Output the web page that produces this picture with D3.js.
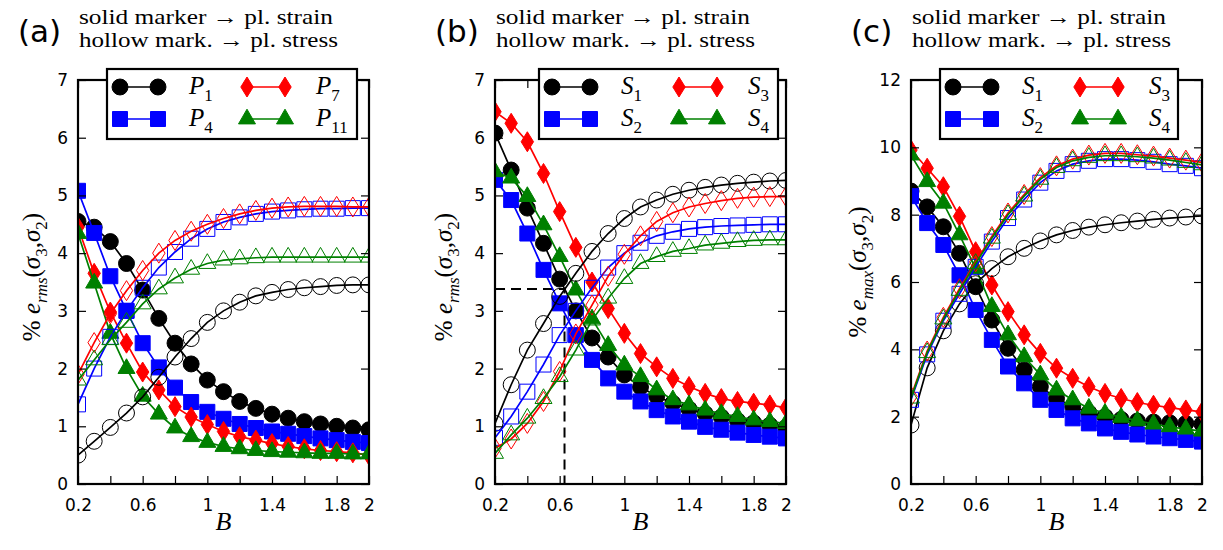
<!DOCTYPE html>
<html>
<head>
<meta charset="utf-8">
<script src="https://cdn.jsdelivr.net/npm/d3@7"></script>
<style>
    body { margin: 0; background: #fff; }
</style>
</head>
<body>
<svg width="1223" height="550"></svg>
<script>
// B values of the markers
const bValues = [0.2, 0.3, 0.4, 0.5, 0.6, 0.7, 0.8, 0.9, 1.0, 1.1, 1.2, 1.3, 1.4, 1.5, 1.6, 1.7, 1.8, 1.9, 2.0];
const xTickValues = [0.2, 0.4, 0.6, 0.8, 1.0, 1.2, 1.4, 1.6, 1.8, 2.0];
const xTickLabels = ['0.2', '', '0.6', '', '1', '', '1.4', '', '1.8', '2'];
const yTicksRms = [0, 1, 2, 3, 4, 5, 6, 7];
const yTicksMax = [0, 2, 4, 6, 8, 10, 12];

const panelTags = ['(a)', '(b)', '(c)'];
const noteLines = ['solid marker \u2192 pl. strain', 'hollow mark. \u2192 pl. stress'];
const namesA = ['P_1', 'P_4', 'P_7', 'P_11'];
const namesS = ['S_1', 'S_2', 'S_3', 'S_4'];

// (a) % e_rms, P series
const aP1Strain = [4.55, 4.45, 4.2, 3.82, 3.36, 2.87, 2.44, 2.08, 1.8, 1.6, 1.43, 1.31, 1.21, 1.14, 1.08, 1.04, 1.0, 0.97, 0.94];
const aP1Stress = [0.5, 0.74, 0.98, 1.23, 1.51, 1.85, 2.2, 2.52, 2.8, 3.0, 3.15, 3.26, 3.32, 3.37, 3.4, 3.42, 3.44, 3.45, 3.45];
const aP4Strain = [5.08, 4.35, 3.6, 3.0, 2.44, 2.02, 1.67, 1.42, 1.25, 1.13, 1.04, 0.97, 0.91, 0.87, 0.83, 0.79, 0.76, 0.73, 0.71];
const aP4Stress = [1.38, 2.0, 2.55, 3.0, 3.4, 3.75, 4.02, 4.25, 4.42, 4.54, 4.62, 4.68, 4.72, 4.74, 4.76, 4.77, 4.77, 4.78, 4.78];
const aP7Strain = [4.45, 3.65, 2.98, 2.44, 1.94, 1.63, 1.34, 1.16, 1.03, 0.91, 0.82, 0.76, 0.7, 0.65, 0.61, 0.58, 0.56, 0.54, 0.5];
const aP7Stress = [1.9, 2.45, 2.95, 3.35, 3.7, 4.0, 4.22, 4.38, 4.5, 4.6, 4.68, 4.74, 4.78, 4.8, 4.81, 4.81, 4.81, 4.8, 4.8];
const aP11Strain = [4.34, 3.48, 2.61, 2.0, 1.52, 1.21, 0.97, 0.82, 0.72, 0.65, 0.61, 0.58, 0.56, 0.55, 0.54, 0.53, 0.53, 0.52, 0.52];
const aP11Stress = [1.8, 2.15, 2.5, 2.8, 3.12, 3.38, 3.57, 3.72, 3.82, 3.88, 3.9, 3.92, 3.93, 3.93, 3.93, 3.93, 3.93, 3.93, 3.93];

// (b) % e_rms, S series
const bS1Strain = [6.08, 5.44, 4.78, 4.17, 3.55, 3.0, 2.53, 2.2, 1.89, 1.68, 1.52, 1.4, 1.3, 1.22, 1.16, 1.1, 1.06, 1.02, 0.98];
const bS1Stress = [1.05, 1.72, 2.32, 2.78, 3.25, 3.65, 4.03, 4.34, 4.6, 4.8, 4.92, 5.02, 5.09, 5.14, 5.18, 5.21, 5.23, 5.25, 5.26];
const bS2Strain = [5.27, 4.92, 4.34, 3.71, 3.13, 2.58, 2.15, 1.83, 1.6, 1.43, 1.28, 1.17, 1.08, 0.99, 0.94, 0.89, 0.85, 0.82, 0.79];
const bS2Stress = [0.8, 1.17, 1.6, 2.07, 2.58, 3.0, 3.4, 3.75, 4.0, 4.18, 4.3, 4.37, 4.42, 4.45, 4.47, 4.48, 4.49, 4.5, 4.5];
const bS3Strain = [6.45, 6.25, 5.93, 5.38, 4.72, 4.1, 3.5, 3.04, 2.61, 2.26, 2.03, 1.83, 1.69, 1.57, 1.48, 1.43, 1.4, 1.37, 1.32];
const bS3Stress = [0.62, 0.78, 1.05, 1.43, 1.95, 2.6, 3.1, 3.6, 3.98, 4.3, 4.55, 4.7, 4.8, 4.86, 4.91, 4.95, 4.97, 4.98, 4.98];
const bS4Strain = [5.41, 5.3, 4.98, 4.49, 3.94, 3.36, 2.86, 2.4, 2.06, 1.86, 1.63, 1.46, 1.37, 1.28, 1.22, 1.17, 1.11, 1.08, 1.05];
const bS4Stress = [0.53, 0.85, 1.14, 1.48, 1.86, 2.32, 2.84, 3.22, 3.56, 3.82, 3.94, 4.03, 4.08, 4.14, 4.17, 4.2, 4.22, 4.23, 4.23];
const bGuideB = 0.63;
const bGuideErr = 3.38;

// (c) % e_max, S series
const cS1Strain = [8.7, 8.23, 7.64, 6.85, 5.86, 4.87, 4.03, 3.39, 2.89, 2.54, 2.3, 2.12, 2.0, 1.92, 1.87, 1.84, 1.82, 1.8, 1.78];
const cS1Stress = [1.75, 3.45, 4.55, 5.35, 5.95, 6.4, 6.75, 7.0, 7.22, 7.4, 7.53, 7.63, 7.7, 7.76, 7.81, 7.86, 7.9, 7.93, 7.96];
const cS2Strain = [8.55, 7.75, 7.1, 6.2, 5.17, 4.28, 3.49, 2.99, 2.5, 2.2, 1.95, 1.8, 1.65, 1.55, 1.47, 1.41, 1.36, 1.31, 1.26];
const cS2Stress = [2.5, 3.85, 4.85, 5.65, 6.45, 7.2, 7.9, 8.45, 8.95, 9.3, 9.5, 9.6, 9.65, 9.65, 9.62, 9.57, 9.5, 9.45, 9.38];
const cS3Strain = [9.92, 9.38, 8.83, 7.95, 6.9, 5.91, 5.12, 4.43, 3.88, 3.44, 3.14, 2.89, 2.69, 2.54, 2.42, 2.34, 2.27, 2.2, 2.14];
const cS3Stress = [2.6, 3.95, 4.95, 5.8, 6.6, 7.35, 8.05, 8.6, 9.1, 9.45, 9.65, 9.77, 9.82, 9.82, 9.78, 9.74, 9.68, 9.62, 9.55];
const cS4Strain = [9.77, 8.98, 8.34, 7.4, 6.4, 5.27, 4.43, 3.78, 3.24, 2.79, 2.5, 2.25, 2.1, 1.98, 1.88, 1.78, 1.7, 1.63, 1.57];
const cS4Stress = [2.55, 3.9, 4.9, 5.75, 6.55, 7.3, 8.0, 8.55, 9.05, 9.4, 9.6, 9.7, 9.75, 9.75, 9.72, 9.68, 9.62, 9.55, 9.48];

const colors = ['#000000', '#0000ff', '#ff0000', '#008000'];

// thin diamond like matplotlib 'd'
const thinDiamond = {
    draw(ctx, size) {
        const hy = Math.sqrt(size / 1.24);
        const hx = hy * 0.62;
        ctx.moveTo(0, -hy);
        ctx.lineTo(hx, 0);
        ctx.lineTo(0, hy);
        ctx.lineTo(-hx, 0);
        ctx.closePath();
    },
};
const shapes = [
    d3.symbol(d3.symbolCircle, 200),
    d3.symbol(d3.symbolSquare, 225),
    d3.symbol(thinDiamond, 124),
    d3.symbol(d3.symbolTriangle, 125),
];

const panels = [
    {
        left: 78, yMax: 7, yTicks: yTicksRms, errSub: 'rms', names: namesA, legendW: 250, labelX: 40,
        strain: [aP1Strain, aP4Strain, aP7Strain, aP11Strain],
        stress: [aP1Stress, aP4Stress, aP7Stress, aP11Stress],
    },
    {
        left: 495, yMax: 7, yTicks: yTicksRms, errSub: 'rms', names: namesS, legendW: 239, labelX: 452,
        strain: [bS1Strain, bS2Strain, bS3Strain, bS4Strain],
        stress: [bS1Stress, bS2Stress, bS3Stress, bS4Stress],
    },
    {
        left: 911, yMax: 12, yTicks: yTicksMax, errSub: 'max', names: namesS, legendW: 238, labelX: 866,
        strain: [cS1Strain, cS2Strain, cS3Strain, cS4Strain],
        stress: [cS1Stress, cS2Stress, cS3Stress, cS4Stress],
    },
];

const plotTop = 80;
const plotBottom = 484;
const plotW = 291;
const serif = "'Liberation Serif', 'DejaVu Serif', serif";
const sans = "'DejaVu Sans', sans-serif";

const svg = d3.select('svg');

// text with subscripts, kinds: n, i, subn, subi
const richText = (sel, parts, size) => {
    let low = false;
    parts.forEach(([t, kind]) => {
        const sub = kind.startsWith('sub');
        const ts = sel
            .append('tspan')
            .text(t)
            .attr('font-style', kind.endsWith('i') ? 'italic' : 'normal')
            .attr('font-size', sub ? size * 0.68 : size);
        if (sub && !low) {
            ts.attr('dy', size * 0.28);
            low = true;
        } else if (!sub && low) {
            ts.attr('dy', -size * 0.28);
            low = false;
        }
    });
};

panels.forEach((p, pi) => {
    const g = svg.append('g');
    const xScale = d3.scaleLinear().domain([0.2, 2]).range([p.left, p.left + plotW]);
    const yScale = d3.scaleLinear().domain([0, p.yMax]).range([plotBottom, plotTop]);

    const clipId = 'clip' + pi;
    svg.append('clipPath')
        .attr('id', clipId)
        .append('rect')
        .attr('x', p.left)
        .attr('y', plotTop)
        .attr('width', plotW)
        .attr('height', plotBottom - plotTop);

    const plot = g.append('g').attr('clip-path', `url(#${clipId})`);

    // guide lines in (b)
    if (pi === 1) {
        plot.append('path')
            .attr('d', d3.line()([
                [xScale(0.2), yScale(bGuideErr)],
                [xScale(bGuideB), yScale(bGuideErr)],
                [xScale(bGuideB), yScale(0)],
            ]))
            .attr('fill', 'none')
            .attr('stroke', '#000')
            .attr('stroke-width', 2)
            .attr('stroke-dasharray', '10,6');
    }

    const lineGenerator = d3
        .line()
        .x((d, i) => xScale(bValues[i]))
        .y((d) => yScale(d));

    const drawSeries = (vals, k, filled) => {
        plot.append('path')
            .attr('d', lineGenerator(vals))
            .attr('fill', 'none')
            .attr('stroke', colors[k])
            .attr('stroke-width', 1.7);
        plot.selectAll(null)
            .data(vals)
            .join('path')
            .attr('transform', (d, i) => `translate(${xScale(bValues[i])},${yScale(d)})`)
            .attr('d', shapes[k])
            .attr('fill', filled ? colors[k] : 'none')
            .attr('stroke', colors[k])
            .attr('stroke-width', 1);
    };
    p.strain.forEach((vals, k) => drawSeries(vals, k, true));
    p.stress.forEach((vals, k) => drawSeries(vals, k, false));

    // axes, ticks pointing inwards
    g.append('g')
        .attr('transform', `translate(0,${plotBottom})`)
        .call(d3.axisBottom(xScale).tickValues(xTickValues).tickSize(-8).tickPadding(15)
            .tickFormat((d, i) => xTickLabels[i]));
    g.append('g')
        .attr('transform', `translate(0,${plotTop})`)
        .call(d3.axisTop(xScale).tickValues(xTickValues).tickSize(-8).tickFormat(''));
    g.append('g')
        .attr('transform', `translate(${p.left},0)`)
        .call(d3.axisLeft(yScale).tickValues(p.yTicks).tickSize(-8).tickPadding(10)
            .tickFormat(d3.format('d')));
    g.append('g')
        .attr('transform', `translate(${p.left + plotW},0)`)
        .call(d3.axisRight(yScale).tickValues(p.yTicks).tickSize(-8).tickFormat(''));
    g.selectAll('.domain').remove();
    g.selectAll('.tick line').attr('stroke', '#000').attr('stroke-width', 1.2);
    g.selectAll('.tick text').attr('font-family', sans).attr('font-size', 17).attr('fill', '#000');

    g.append('rect')
        .attr('x', p.left)
        .attr('y', plotTop)
        .attr('width', plotW)
        .attr('height', plotBottom - plotTop)
        .attr('fill', 'none')
        .attr('stroke', '#000')
        .attr('stroke-width', 2.2);

    // legend
    const lx = p.left + (pi === 0 ? 29 : pi === 1 ? 44 : 29);
    const leg = g.append('g').attr('transform', `translate(${lx},69)`);
    leg.append('rect')
        .attr('width', p.legendW)
        .attr('height', 70)
        .attr('fill', '#fff')
        .attr('stroke', '#000')
        .attr('stroke-width', 2.2);
    p.names.forEach((name, k) => {
        const col = Math.floor(k / 2);
        const row = k % 2;
        const x0 = 13 + col * 127;
        const y0 = 18 + row * 32;
        leg.append('line')
            .attr('x1', x0).attr('x2', x0 + 38)
            .attr('y1', y0).attr('y2', y0)
            .attr('stroke', colors[k])
            .attr('stroke-width', 1.7);
        [x0, x0 + 38].forEach((mx) => {
            leg.append('path')
                .attr('transform', `translate(${mx},${y0})`)
                .attr('d', shapes[k])
                .attr('fill', colors[k])
                .attr('stroke', colors[k]);
        });
        const [letter, sub] = name.split('_');
        const t = leg.append('text')
            .attr('x', x0 + 69)
            .attr('y', y0 + 7)
            .attr('font-family', serif);
        richText(t, [[letter, 'i'], [sub, 'subn']], 25);
    });

    // axis titles
    const bx = svg.append('text')
        .attr('x', p.left + plotW / 2)
        .attr('y', 530)
        .attr('text-anchor', 'middle')
        .attr('font-family', serif);
    richText(bx, [['B', 'i']], 26);

    const yl = svg.append('text')
        .attr('transform', `translate(${p.labelX},${pi === 2 ? 272 : 277}) rotate(-90)`)
        .attr('text-anchor', 'middle')
        .attr('font-family', serif);
    richText(yl, [
        ['% ', 'n'], ['e', 'i'], [p.errSub, 'subi'], ['(', 'n'], ['\u03c3', 'i'], ['3', 'subn'],
        [',', 'n'], ['\u03c3', 'i'], ['2', 'subn'], [')', 'n'],
    ], 25);

    // panel tag and notes
    svg.append('text')
        .attr('x', p.left - 60)
        .attr('y', 42)
        .attr('font-family', sans)
        .attr('font-size', 31)
        .text(panelTags[pi]);
    noteLines.forEach((line, j) => {
        svg.append('text')
            .attr('x', p.left + 1)
            .attr('y', 24 + j * 23)
            .attr('font-family', serif)
            .attr('font-size', 22)
            .attr('textLength', j === 0 ? 254 : 259)
            .attr('lengthAdjust', 'spacingAndGlyphs')
            .text(line);
    });
});
</script>
</body>
</html>
